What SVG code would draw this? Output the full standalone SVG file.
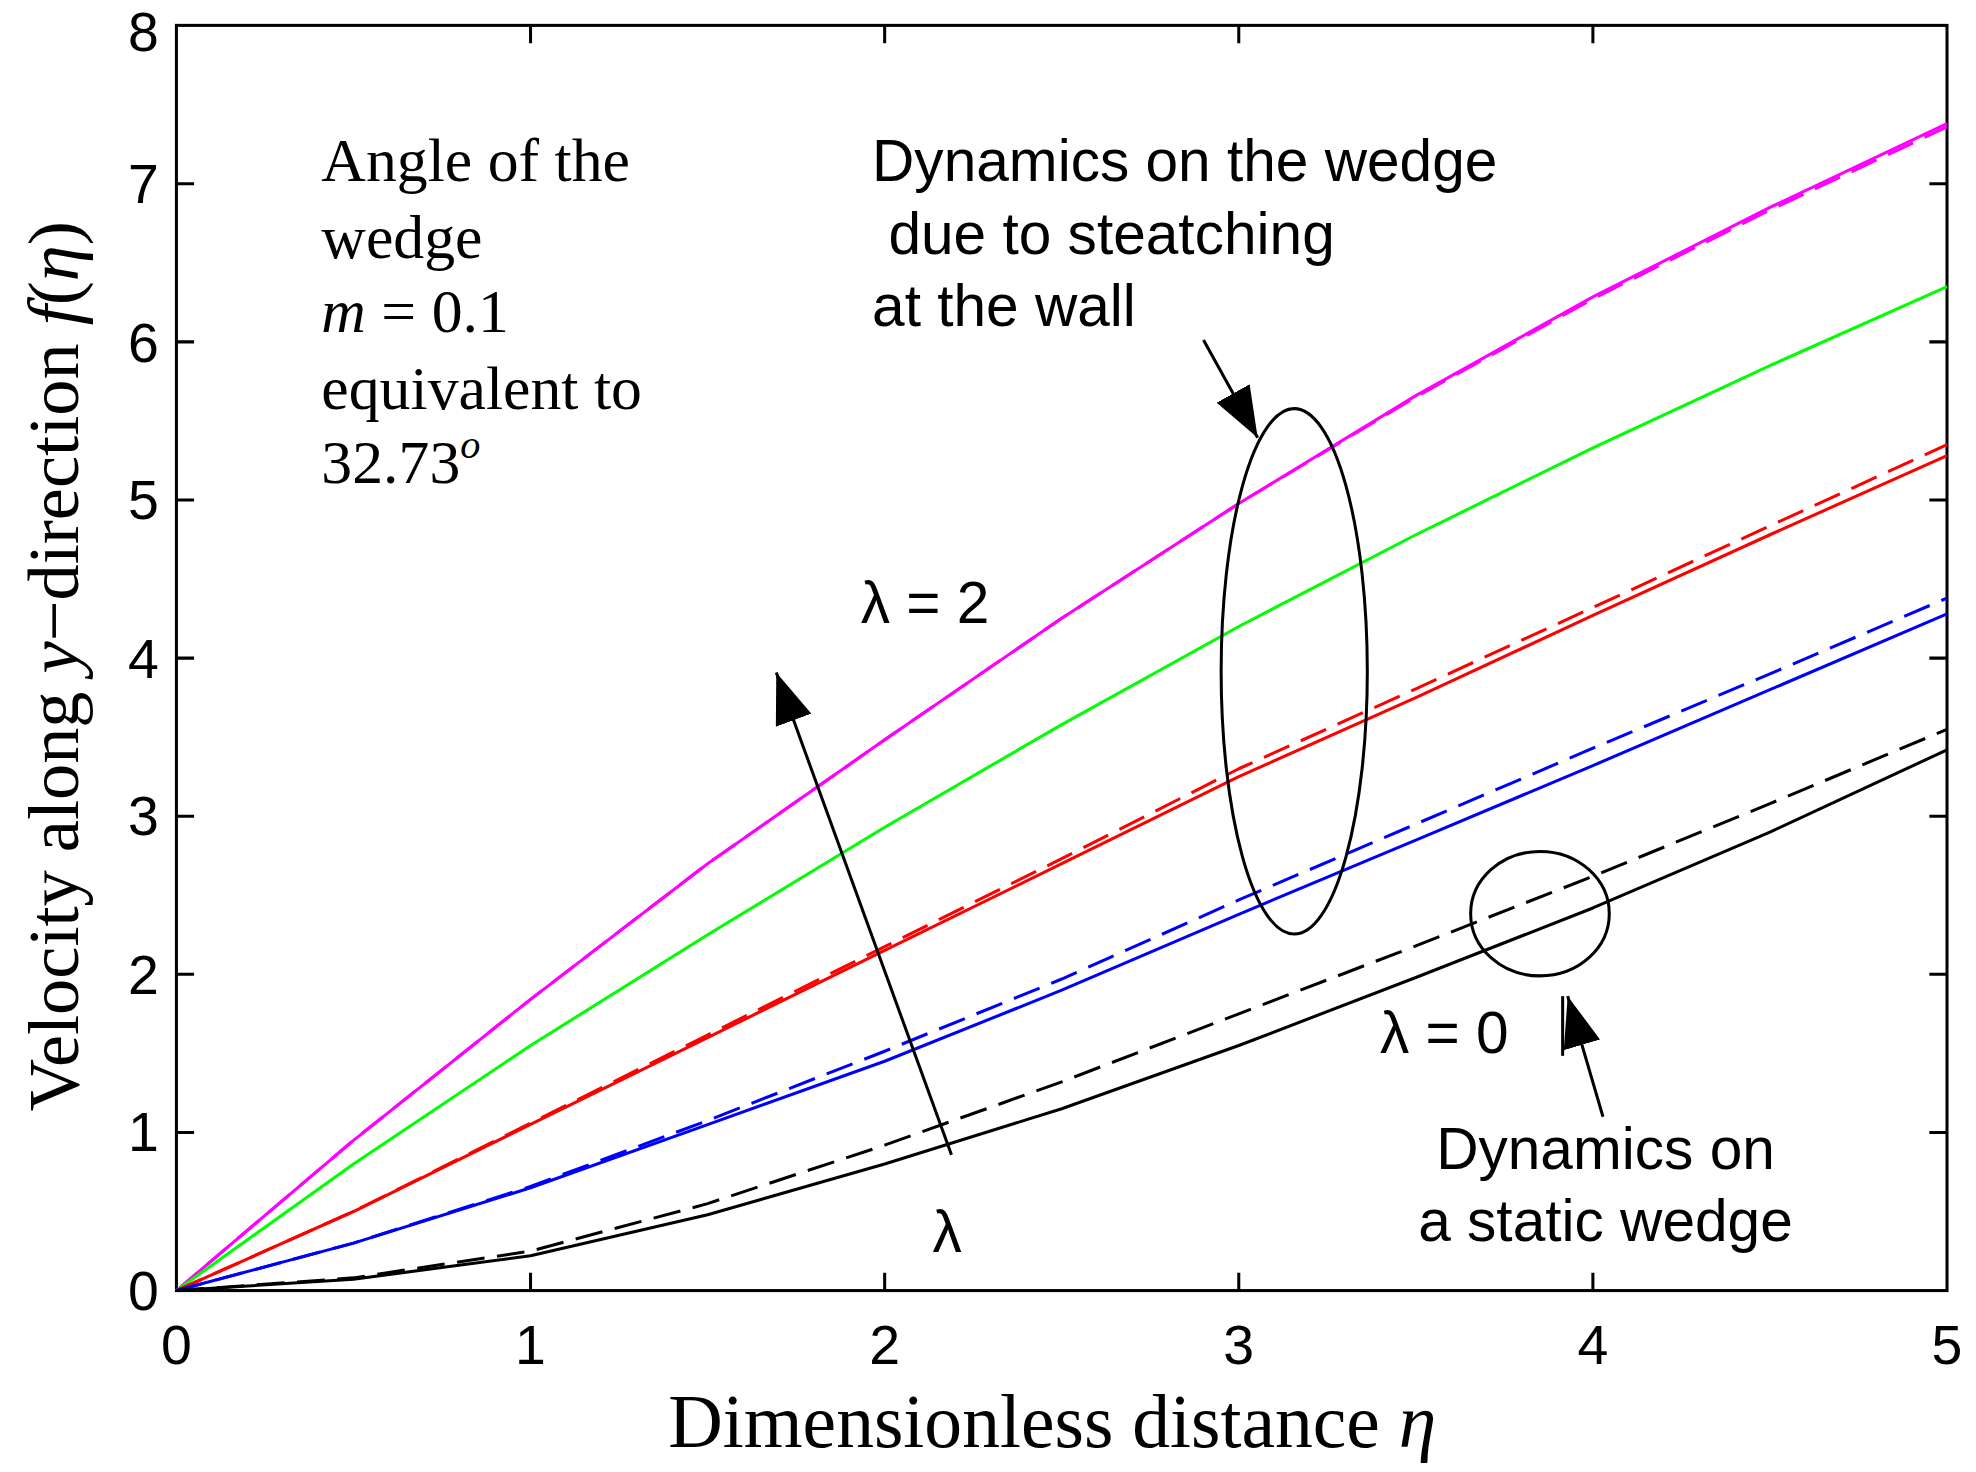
<svg xmlns="http://www.w3.org/2000/svg" width="1976" height="1472" viewBox="0 0 1976 1472">
<style>
.c{fill:none;stroke-width:2.4;stroke-linejoin:round}
.d{stroke-dasharray:22,10}
.s{font-family:"Liberation Sans",Arial,sans-serif;font-size:46.5px}
.t{font-family:"Liberation Sans",Arial,sans-serif;font-size:44px}
.r{font-family:"Liberation Serif","Times New Roman",serif;font-size:49px}
.k{stroke:#000;stroke-width:2.4;fill:none}
</style>
<defs>
<marker id="ah2" viewBox="0 0 40 30" refX="40" refY="15" markerWidth="40" markerHeight="30" orient="auto" markerUnits="userSpaceOnUse"><path d="M0,0 L40,15 L0,30 z"/></marker></defs>
<rect width="1976" height="1472" fill="#fff"/>
<g transform="scale(1.2602,1.269)">
<g id="axes">
<rect x="140" y="20" width="1405" height="997" class="k"/>
<path class="k" d="M421,1017v-14M702,1017v-14M983,1017v-14M1264,1017v-14M421,20v14M702,20v14M983,20v14M1264,20v14
M140,892.4h14M140,767.8h14M140,643.2h14M140,518.6h14M140,394h14M140,269.4h14M140,144.8h14
M1545,892.4h-14M1545,767.8h-14M1545,643.2h-14M1545,518.6h-14M1545,394h-14M1545,269.4h-14M1545,144.8h-14"/>
<g class="t" text-anchor="middle"><text x="140" y="1075">0</text><text x="421" y="1075">1</text><text x="702" y="1075">2</text><text x="983" y="1075">3</text><text x="1264" y="1075">4</text><text x="1545" y="1075">5</text></g>
<g class="t" text-anchor="end"><text x="126" y="1032">0</text><text x="126" y="907">1</text><text x="126" y="783">2</text><text x="126" y="658">3</text><text x="126" y="534">4</text><text x="126" y="409">5</text><text x="126" y="285">6</text><text x="126" y="160">7</text><text x="126" y="40">8</text></g>
<text class="r" x="835" y="1140" text-anchor="middle" style="font-size:60px">Dimensionless distance <tspan font-style="italic">η</tspan></text>
<text class="r" transform="translate(62,525) rotate(-90)" text-anchor="middle" style="font-size:57px">Velocity along <tspan font-style="italic">y</tspan>−direction <tspan font-style="italic">f</tspan>(<tspan font-style="italic">η</tspan>)</text>
</g>
<g id="curves">
<path class="c" stroke="#f0f" d="M140,1017L280.5,898.6L421,787.5L561.5,680.6L702,583L842.5,487.2L983,396.8L1123.5,311.8L1264,234L1404.5,163.5L1545,97.5"/>
<path class="c d" stroke="#f0f" d="M140,1017L280.5,898.6L421,787.5L561.5,680.6L702,583L842.5,487.2L983,396.8L1123.5,312.8L1264,235.5L1404.5,165.5L1545,100"/>
<path class="c" stroke="#0f0" d="M140,1017L280.5,917.3L421,823.9L561.5,736.6L702,651.9L842.5,571L983,493.7L1123.5,421.4L1264,352.9L1404.5,288.1L1545,225.8"/>
<path class="c" stroke="#f00" d="M140,1017L280.5,954.7L421,886L561.5,817.6L702,749L842.5,680.6L983,612L1123.5,549.8L1264,485L1404.5,421.4L1545,359"/>
<path class="c d" stroke="#f00" d="M140,1017L280.5,954.7L421,885L561.5,815.6L702,746L842.5,676.6L983,605.8L1123.5,542.8L1264,478.7L1404.5,414.4L1545,350.4"/>
<path class="c" stroke="#00f" d="M140,1017L280.5,979.6L421,936L561.5,886.2L702,836.3L842.5,780.3L983,720.5L1123.5,662L1264,603.3L1404.5,543.5L1545,483.7"/>
<path class="c d" stroke="#00f" d="M140,1017L280.5,979.6L421,935L561.5,883L702,828.4L842.5,771.5L983,709.2L1123.5,649.4L1264,589.6L1404.5,531L1545,471.3"/>
<path class="c" stroke="#000" d="M140,1017L280.5,1008L421,989.6L561.5,957.2L702,917.3L842.5,873.7L983,823.9L1123.5,770.3L1264,715.5L1404.5,655.7L1545,590.9"/>
<path class="c d" stroke="#000" d="M140,1017L280.5,1007L421,985.9L561.5,948.5L702,902.4L842.5,852.5L983,798.9L1123.5,745.4L1264,690.5L1404.5,633.3L1545,574.7"/>
</g>
<g id="annotations">
<ellipse cx="1027" cy="529" rx="58" ry="207" class="k"/>
<ellipse cx="1222" cy="720" rx="55" ry="49" class="k"/>
<line x1="955" y1="268" x2="998" y2="345" class="k" marker-end="url(#ah2)"/>
<line x1="755" y1="910" x2="616" y2="530" class="k" marker-end="url(#ah2)"/>
<line x1="1272" y1="880" x2="1244" y2="785" class="k" marker-end="url(#ah2)"/>
<line x1="1240" y1="785" x2="1240" y2="832" class="k"/>
<g class="r"><text x="255" y="143">Angle of the</text><text x="255" y="203">wedge</text><text x="255" y="262"><tspan font-style="italic">m</tspan> = 0.1</text><text x="255" y="322">equivalent to</text><text x="255" y="381">32.73<tspan font-style="italic" font-size="32" dy="-20">o</tspan></text></g>
<g class="s"><text x="692" y="143">Dynamics on the wedge</text><text x="705" y="200"> due to steatching</text><text x="692" y="257">at the wall</text>
<text x="683" y="491">λ = 2</text><text x="1095" y="830">λ = 0</text><text x="740" y="987">λ</text>
<text x="1274" y="921" text-anchor="middle">Dynamics on</text><text x="1274" y="978" text-anchor="middle">a static wedge</text></g>
</g>
</g>
</svg>
